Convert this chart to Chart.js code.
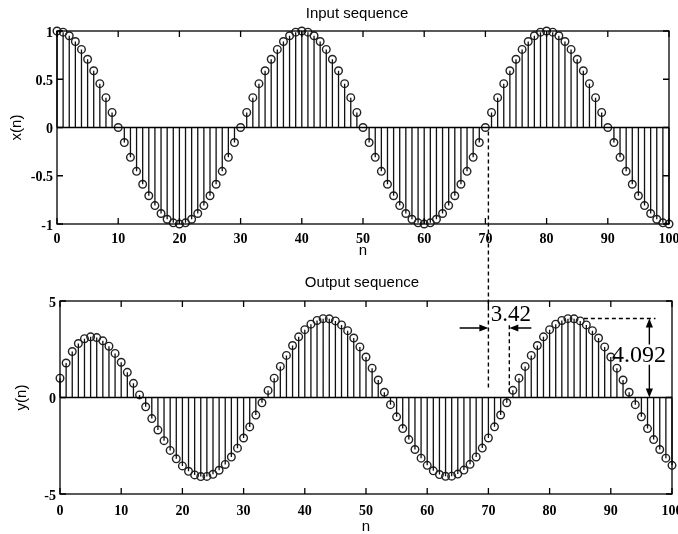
<!DOCTYPE html>
<html><head><meta charset="utf-8">
<script src="https://cdn.jsdelivr.net/npm/chart.js@4/dist/chart.umd.min.js"></script>
<style>
html,body{margin:0;padding:0;background:#fff;}
#wrap{position:relative;width:678px;height:534px;overflow:hidden;background:#fff;}
canvas{position:absolute;left:0;top:0;}
</style></head><body>
<div id="wrap"><canvas id="c1" width="678" height="534"></canvas><canvas id="c2" width="678" height="534"></canvas></div>
<script>
// ---- data ----
const n = [0,1,2,3,4,5,6,7,8,9,10,11,12,13,14,15,16,17,18,19,20,21,22,23,24,25,26,27,28,29,30,31,32,33,34,35,36,37,38,39,40,41,42,43,44,45,46,47,48,49,50,51,52,53,54,55,56,57,58,59,60,61,62,63,64,65,66,67,68,69,70,71,72,73,74,75,76,77,78,79,80,81,82,83,84,85,86,87,88,89,90,91,92,93,94,95,96,97,98,99,100];
const inputSeq = [1,0.988,0.951,0.891,0.809,0.707,0.588,0.454,0.309,0.156,0,-0.156,-0.309,-0.454,-0.588,-0.707,-0.809,-0.891,-0.951,-0.988,-1,-0.988,-0.951,-0.891,-0.809,-0.707,-0.588,-0.454,-0.309,-0.156,0,0.156,0.309,0.454,0.588,0.707,0.809,0.891,0.951,0.988,
1,0.988,0.951,0.891,0.809,0.707,0.588,0.454,0.309,0.156,0,-0.156,-0.309,-0.454,-0.588,-0.707,-0.809,-0.891,-0.951,-0.988,-1,-0.988,-0.951,-0.891,-0.809,-0.707,-0.588,-0.454,-0.309,-0.156,0,0.156,0.309,0.454,0.588,0.707,0.809,0.891,0.951,0.988,
1,0.988,0.951,0.891,0.809,0.707,0.588,0.454,0.309,0.156,0,-0.156,-0.309,-0.454,-0.588,-0.707,-0.809,-0.891,-0.951,-0.988,-1];
const outputSeq = [1.000,1.788,2.381,2.796,3.046,3.144,3.103,2.936,2.658,2.283,
1.826,1.305,0.735,0.134,-0.481,-1.092,-1.682,-2.237,-2.741,-3.180,
-3.544,-3.823,-4.010,-4.099,-4.088,-3.978,-3.770,-3.470,-3.085,-2.624,
-2.099,-1.523,-0.910,-0.274,0.369,1.002,1.611,2.180,2.695,3.144,
3.515,3.800,3.991,4.084,4.076,3.968,3.762,3.464,3.080,2.620,
2.096,1.521,0.908,0.272,-0.370,-1.003,-1.612,-2.180,-2.695,-3.144,
-3.515,-3.800,-3.991,-4.084,-4.076,-3.968,-3.762,-3.464,-3.080,-2.620,
-2.096,-1.521,-0.908,-0.272,0.370,1.003,1.612,2.180,2.695,3.144,
3.515,3.800,3.991,4.084,4.076,3.968,3.762,3.464,3.080,2.620,
2.096,1.521,0.908,0.272,-0.370,-1.003,-1.612,-2.180,-2.695,-3.144,
-3.515];
const xTicks = [0,10,20,30,40,50,60,70,80,90,100];
const inputYTicks = [-1,-0.5,0,0.5,1];
const outputYTicks = [-5,0,5];
const delaySamples = 3.42;
const peakGain = 4.092;
const markN = 70;

// ---- drawing ----
const SERIF = '"Liberation Serif","Times New Roman",serif';
const SANS = '"Liberation Sans",Arial,sans-serif';
const INK = '#000';

const boxPlugin = {
  id: 'box',
  afterDraw(chart, args, o) {
    const {ctx, chartArea: a, scales} = chart;
    ctx.save();
    ctx.strokeStyle = INK; ctx.lineWidth = 1.3;
    ctx.strokeRect(a.left, a.top, a.right - a.left, a.bottom - a.top);
    const L = 6;
    ctx.beginPath();
    scales.x.ticks.forEach(t => {
      const px = scales.x.getPixelForValue(t.value);
      ctx.moveTo(px, a.bottom); ctx.lineTo(px, a.bottom - L);
      ctx.moveTo(px, a.top); ctx.lineTo(px, a.top + L);
    });
    scales.y.ticks.forEach(t => {
      const py = scales.y.getPixelForValue(t.value);
      ctx.moveTo(a.left, py); ctx.lineTo(a.left + L, py);
      ctx.moveTo(a.right, py); ctx.lineTo(a.right - L, py);
    });
    ctx.stroke();
    ctx.fillStyle = INK;
    ctx.font = '15px ' + SANS;
    ctx.textAlign = 'center'; ctx.textBaseline = 'middle';
    ctx.fillText(o.text, (a.left + a.right) / 2 + o.dx, o.y);
    ctx.restore();
  }
};

function makeConfig(vals, yTicks, ymin, ymax, lay) {
  const stems = [];
  n.forEach((k, i) => { stems.push({x: k, y: 0}, {x: k, y: vals[i]}, {x: k, y: null}); });
  const marks = n.map((k, i) => ({x: k, y: vals[i]}));
  return {
    type: 'scatter',
    data: {datasets: [
      {type: 'line', data: [{x: 0, y: 0}, {x: 100, y: 0}], borderColor: INK, borderWidth: 1.4, pointRadius: 0, clip: false},
      {type: 'line', data: stems, borderColor: '#111', borderWidth: 1.3, pointRadius: 0, spanGaps: false, clip: false},
      {type: 'scatter', data: marks, pointStyle: 'circle', pointRadius: 3.8, borderWidth: 1.4, borderColor: '#222', backgroundColor: 'rgba(255,255,255,0)', clip: false}
    ]},
    options: {
      responsive: false, animation: false, events: [],
      layout: {padding: lay.padding},
      plugins: {legend: {display: false}, tooltip: {enabled: false}, box: {text: lay.title, y: lay.titleY, dx: lay.titleDx}},
      scales: {
        x: {type: 'linear', min: 0, max: 100,
            grid: {display: false, drawTicks: false}, border: {display: false},
            ticks: {font: {family: SERIF, size: 14, weight: 'bold'}, color: INK, padding: lay.xTickPad, maxRotation: 0, autoSkip: false, callback: v => String(v)},
            afterBuildTicks: s => { s.ticks = xTicks.map(v => ({value: v})); },
            afterFit: s => { s.height = 40; s.paddingLeft = 0; s.paddingRight = 0; },
            title: {display: true, text: 'n', font: {family: SANS, size: 15, lineHeight: 1}, color: INK, padding: {top: 0, bottom: lay.nPad}}},
        y: {type: 'linear', min: ymin, max: ymax,
            grid: {display: false, drawTicks: false}, border: {display: false},
            ticks: {font: {family: SERIF, size: 14, weight: 'bold'}, color: INK, padding: 4, labelOffset: 2, callback: v => String(v)},
            afterBuildTicks: s => { s.ticks = yTicks.map(v => ({value: v})); },
            afterFit: s => { s.width = lay.yWidth; s.paddingTop = 0; s.paddingBottom = 0; },
            title: {display: true, text: lay.yTitle, font: {family: SANS, size: 15, lineHeight: 1}, color: INK, padding: {top: lay.yTitlePad, bottom: 0}}}
      }
    },
    plugins: [boxPlugin]
  };
}

const topChart = new Chart(document.getElementById('c1'), makeConfig(inputSeq, inputYTicks, -1, 1, {
  padding: {left: 0, top: 31, right: 9, bottom: 534 - 224 - 40},
  yWidth: 57, yTitle: 'x(n)', yTitlePad: 9, xTickPad: 7, nPad: 6,
  title: 'Input sequence', titleY: 14, titleDx: -6
}));

function head(ctx, x, y, dx, dy) {
  const len = 9, w = 3.6;
  const bx = x - dx * len, by = y - dy * len;
  ctx.beginPath();
  ctx.moveTo(x, y);
  ctx.lineTo(bx - dy * w, by + dx * w);
  ctx.lineTo(bx + dy * w, by - dx * w);
  ctx.closePath(); ctx.fill();
}

const annotPlugin = {
  id: 'annot',
  afterDraw(chart) {
    const {ctx} = chart;
    const X = chart.scales.x, Y = chart.scales.y;
    const TY = topChart.scales.y;
    ctx.save();
    ctx.strokeStyle = INK; ctx.fillStyle = INK; ctx.lineWidth = 1.4;
    // dashed guide lines
    ctx.setLineDash([4, 3]);
    ctx.beginPath();
    const x70 = X.getPixelForValue(markN);
    ctx.moveTo(x70, TY.getPixelForValue(0) + 4); ctx.lineTo(x70, Y.getPixelForValue(0.45));
    const xd = X.getPixelForValue(markN + delaySamples);
    ctx.moveTo(xd, Y.getPixelForValue(3.75)); ctx.lineTo(xd, Y.getPixelForValue(0.25));
    const yp = Y.getPixelForValue(peakGain);
    ctx.moveTo(X.getPixelForValue(85.6), yp); ctx.lineTo(X.getPixelForValue(97.3), yp);
    ctx.stroke();
    ctx.setLineDash([]);
    // horizontal arrows
    const ya = Y.getPixelForValue(3.6);
    ctx.beginPath();
    ctx.moveTo(X.getPixelForValue(markN - 4.7), ya); ctx.lineTo(x70 - 4, ya);
    ctx.moveTo(X.getPixelForValue(markN + delaySamples + 3.6), ya); ctx.lineTo(xd + 4, ya);
    ctx.stroke();
    head(ctx, x70, ya, 1, 0);
    head(ctx, xd, ya, -1, 0);
    // vertical double arrow
    const xv = X.getPixelForValue(96.3);
    const y0 = Y.getPixelForValue(0);
    ctx.beginPath();
    ctx.moveTo(xv, yp + 4); ctx.lineTo(xv, Y.getPixelForValue(2.75));
    ctx.moveTo(xv, Y.getPixelForValue(1.7)); ctx.lineTo(xv, y0 - 4);
    ctx.stroke();
    head(ctx, xv, yp, 0, -1);
    head(ctx, xv, y0, 0, 1);
    // labels
    ctx.textAlign = 'left'; ctx.textBaseline = 'alphabetic';
    ctx.font = '23px ' + SERIF;
    ctx.fillText(String(delaySamples), X.getPixelForValue(markN + 0.4), Y.getPixelForValue(3.98));
    ctx.font = '24px ' + SERIF;
    ctx.fillText(String(peakGain), X.getPixelForValue(90.2), Y.getPixelForValue(1.85));
    ctx.restore();
  }
};

const botCfg = makeConfig(outputSeq, outputYTicks, -5, 5, {
  padding: {left: 0, top: 301, right: 6, bottom: 0},
  yWidth: 60, yTitle: 'y(n)', yTitlePad: 14, xTickPad: 9, nPad: 0,
  title: 'Output sequence', titleY: 283, titleDx: -4
});
botCfg.plugins.push(annotPlugin);
const botChart = new Chart(document.getElementById('c2'), botCfg);
</script>
</body></html>
